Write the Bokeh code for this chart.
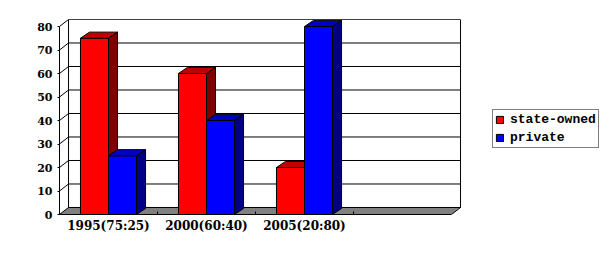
from bokeh.plotting import figure
from bokeh.models import Range1d, FixedTicker, Legend, LegendItem
from bokeh.embed import file_html
from bokeh.resources import INLINE

# ---- data ----
categories = ["1995(75:25)", "2000(60:40)", "2005(20:80)", ""]
state_owned = [75, 60, 20]
private = [25, 40, 80]
series_names = ["state-owned", "private"]
y_ticks = [0, 10, 20, 30, 40, 50, 60, 70, 80]

# ---- style / geometry ----
FRONT = ["#FF0000", "#0000FF"]
TOP = ["#C00000", "#0000C0"]
SIDE = ["#800000", "#000080"]
FLOOR = "#808080"
DX, DY = 0.092, 2.98        # wall depth (slot units, value units)
BDX, BDY = 0.092, 2.6       # bar depth
BAR_W = 0.286
n_slots = len(categories)
ymax = y_ticks[-1]

p = figure(width=612, height=255, output_backend="svg", toolbar_location=None,
           x_range=Range1d(0, 545 / 98), y_range=Range1d(0, 195 / 2.35),
           min_border_left=59, min_border_right=8, min_border_top=19, min_border_bottom=41)
p.outline_line_color = None
p.xgrid.visible = False
p.ygrid.visible = False
p.background_fill_color = "white"
p.border_fill_color = "white"

# back wall
p.patch([DX, n_slots + DX, n_slots + DX, DX], [DY, DY, ymax + DY, ymax + DY],
        fill_color="white", line_color="black", line_width=1)
# back wall gridlines and left wall diagonals
gx, gy = [], []
for v in y_ticks[1:]:
    gx.append([0, DX, n_slots + DX]); gy.append([v, v + DY, v + DY])
p.multi_line(gx, gy, line_color="black", line_width=1)
# floor
p.patch([0, n_slots, n_slots + DX, DX], [0, 0, DY, DY],
        fill_color=FLOOR, line_color="black", line_width=1)
p.segment(x0=list(range(1, n_slots)), y0=[0] * (n_slots - 1),
          x1=list(range(1, n_slots)), y1=[1.3] * (n_slots - 1), line_color="black")

legend_items = []
for si, vals in enumerate([state_owned, private]):
    lefts = [i + 0.5 - BAR_W + si * BAR_W for i in range(len(vals))]
    rights = [l + BAR_W for l in lefts]
    r = p.quad(left=lefts, right=rights, bottom=[0] * len(vals), top=vals,
               fill_color=FRONT[si], line_color="black", line_width=1)
    tx = [[l, rr, rr + BDX, l + BDX] for l, rr in zip(lefts, rights)]
    ty = [[v, v, v + BDY, v + BDY] for v in vals]
    p.patches(tx, ty, fill_color=TOP[si], line_color="black", line_width=1)
    sx = [[rr, rr + BDX, rr + BDX, rr] for rr in rights]
    sy = [[0, BDY, v + BDY, v] for v in vals]
    p.patches(sx, sy, fill_color=SIDE[si], line_color="black", line_width=1)
    legend_items.append(LegendItem(label=series_names[si], renderers=[r]))

# axes
p.yaxis.ticker = FixedTicker(ticks=y_ticks)
p.yaxis.bounds = (0, ymax)
p.yaxis.axis_line_color = "black"
p.yaxis.major_tick_out = 2
p.yaxis.major_tick_in = 0
p.yaxis.minor_tick_line_color = None
p.yaxis.major_label_standoff = 5
p.yaxis.major_label_text_font = "DejaVu Serif"
p.yaxis.major_label_text_font_style = "bold"
p.yaxis.major_label_text_font_size = "11px"
p.yaxis.major_label_text_color = "black"

p.xaxis.ticker = FixedTicker(ticks=[i + 0.5 for i in range(n_slots - 1)])
p.xaxis.major_label_overrides = {i + 0.5: categories[i] for i in range(n_slots - 1)}
p.xaxis.bounds = (0, n_slots)
p.xaxis.axis_line_color = "black"
p.xaxis.major_tick_line_color = None
p.xaxis.minor_tick_line_color = None
p.xaxis.major_tick_out = 0
p.xaxis.major_label_standoff = 4
p.xaxis.major_label_text_font = "DejaVu Serif"
p.xaxis.major_label_text_font_style = "bold"
p.xaxis.major_label_text_font_size = "12px"
p.xaxis.major_label_text_color = "black"

legend = Legend(items=legend_items, location=(433, 66))
legend.border_line_color = "black"
legend.border_line_width = 1
legend.background_fill_color = "white"
legend.background_fill_alpha = 1
legend.padding = 2
legend.spacing = 3
legend.margin = 0
legend.glyph_width = 9
legend.glyph_height = 9
legend.label_height = 14
legend.label_standoff = 6
legend.label_text_font = "Liberation Mono"
legend.label_text_font_style = "bold"
legend.label_text_font_size = "13px"
legend.label_text_color = "black"
p.add_layout(legend)

open("out.html", "w").write(file_html(p, INLINE))
